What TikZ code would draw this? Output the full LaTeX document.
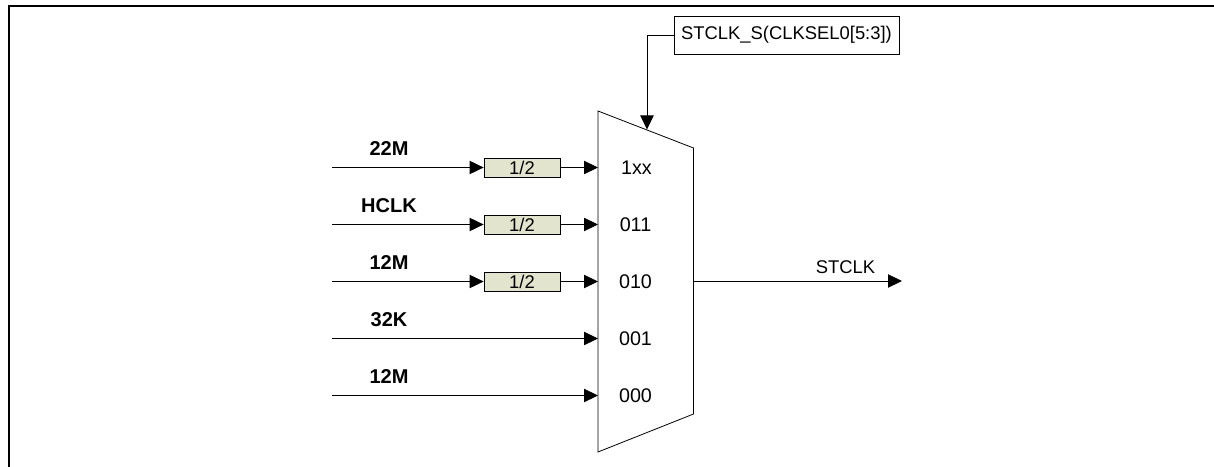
\documentclass[tikz,border=0pt]{standalone}
\usepackage{fontspec}
\setmainfont{Liberation Sans}
\usetikzlibrary{arrows.meta}
\definecolor{divfill}{RGB}{226,228,206}
\tikzset{
  wire/.style={draw=black, line width=0.6pt, -{Triangle[length=10.5pt,width=10pt]}},
  divbox/.style={draw=black, fill=divfill, line width=0.6pt, minimum width=57pt, minimum height=14.25pt, inner sep=0pt, font=\fontsize{13.8}{15}\selectfont},
  inlabel/.style={inner sep=0pt, font=\fontsize{15}{17}\selectfont\bfseries},
  portlabel/.style={inner sep=0pt, font=\fontsize{14.8}{17}\selectfont},
  sellabel/.style={draw=black, line width=0.5pt, minimum width=168.5pt, minimum height=28.5pt, inner sep=0pt, font=\fontsize{13.8}{15}\selectfont},
}
\begin{document}
\begin{tikzpicture}[x=0.75pt,y=-0.75pt]
\useasboundingbox (0,0) rectangle (1214,467);
\draw[line width=1.5pt] (9,467) -- (9,6) -- (1214,6);
\draw[line width=0.6pt] (598,111) -- (693.5,148) -- (693.5,414) -- (598,452) -- cycle;
\node[sellabel] (sel) at (786.5,35) {STCLK\_S(CLKSEL0[5:3])};
\coordinate (muxtop) at (647,129.5);
\draw[wire] (sel.west) -| (muxtop);
\foreach \n/\y/\t in {a/167.5/22M,b/224.5/HCLK,c/281.5/12M}{
  \coordinate (s\n) at (332,\y);
  \coordinate (p\n) at (598,\y);
  \node[divbox] (d\n) at (522,\y) {1/2};
  \node[inlabel] (l\n) at (389,\y-19) {\t};
  \draw[wire] (s\n) -- (d\n.west);
  \draw[wire] (d\n.east) -- (p\n);
}
\foreach \n/\y/\t in {d/338.5/32K,e/395.5/12M}{
  \coordinate (s\n) at (332,\y);
  \coordinate (p\n) at (598,\y);
  \node[inlabel] (l\n) at (389,\y-19) {\t};
  \draw[wire] (s\n) -- (p\n);
}
\foreach \y/\t/\x in {167.5/1xx/636.5,224.5/011/635.5,281.5/010/635.5,338.5/001/635.5,395.5/000/635.5}{
  \node[portlabel] (q\t) at (\x,\y) {\t};
}
\coordinate (mo) at (693.5,281);
\coordinate (oe) at (902,281);
\draw[wire] (mo) -- (oe);
\node[inner sep=0pt,font=\fontsize{13.8}{15}\selectfont] (ol) at (845.5,267) {STCLK};
\end{tikzpicture}
\end{document}
